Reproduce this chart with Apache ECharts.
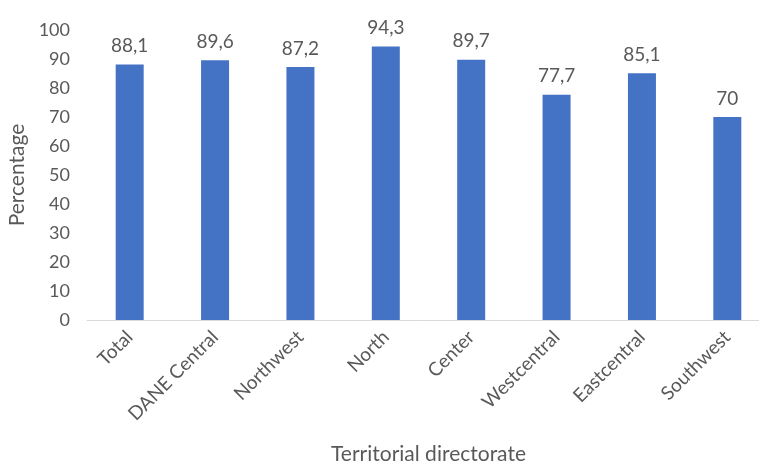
<!DOCTYPE html>
<html>
<head>
<meta charset="utf-8">
<script src="https://cdn.jsdelivr.net/npm/echarts@6/dist/echarts.min.js"></script>
<style>
  html, body { margin: 0; padding: 0; background: #fff; }
  #chart { width: 759px; height: 462px; }
</style>
</head>
<body>
<div id="chart"></div>
<script>
const directorates = ['Total', 'DANE Central', 'Northwest', 'North', 'Center', 'Westcentral', 'Eastcentral', 'Southwest'];
const percentages = [88.1, 89.6, 87.2, 94.3, 89.7, 77.7, 85.1, 70];
const yTicks = { min: 0, max: 100, interval: 10 };

const textColor = '#595959';
const fontFamily = 'Lato, "Noto Sans", sans-serif';

const chart = echarts.init(document.getElementById('chart'), null, { renderer: 'canvas' });

const option = {
    animation: false,
    textStyle: { fontFamily: fontFamily },
    grid: {
        left: 87,
        top: 30,
        width: 683,
        height: 290,
        containLabel: false,
        outerBoundsMode: 'none'
    },
    xAxis: {
        type: 'category',
        data: directorates,
        name: 'Territorial directorate',
        nameLocation: 'middle',
        nameGap: 124,
        nameTextStyle: { color: textColor, fontSize: 21, fontFamily: fontFamily },
        axisLine: { lineStyle: { color: '#d9d9d9', width: 1 } },
        axisTick: { show: false },
        axisLabel: {
            rotate: 45,
            margin: 14,
            color: textColor,
            fontSize: 19,
            fontFamily: fontFamily,
            interval: 0
        }
    },
    yAxis: {
        type: 'value',
        min: yTicks.min,
        max: yTicks.max,
        interval: yTicks.interval,
        name: 'Percentage',
        nameLocation: 'middle',
        nameGap: 56,
        nameTextStyle: { color: textColor, fontSize: 21, fontFamily: fontFamily },
        splitLine: { show: false },
        axisLine: { show: false },
        axisTick: { show: false },
        axisLabel: { color: textColor, fontSize: 18, margin: 17, fontFamily: fontFamily }
    },
    series: [{
        type: 'bar',
        data: percentages,
        barWidth: 28,
        itemStyle: { color: '#4472C4' },
        label: {
            show: true,
            position: 'top',
            distance: 9,
            color: textColor,
            fontSize: 19,
            fontFamily: fontFamily,
            formatter: (p) => String(p.value).replace('.', ',')
        }
    }]
};

chart.setOption(option);
</script>
</body>
</html>
